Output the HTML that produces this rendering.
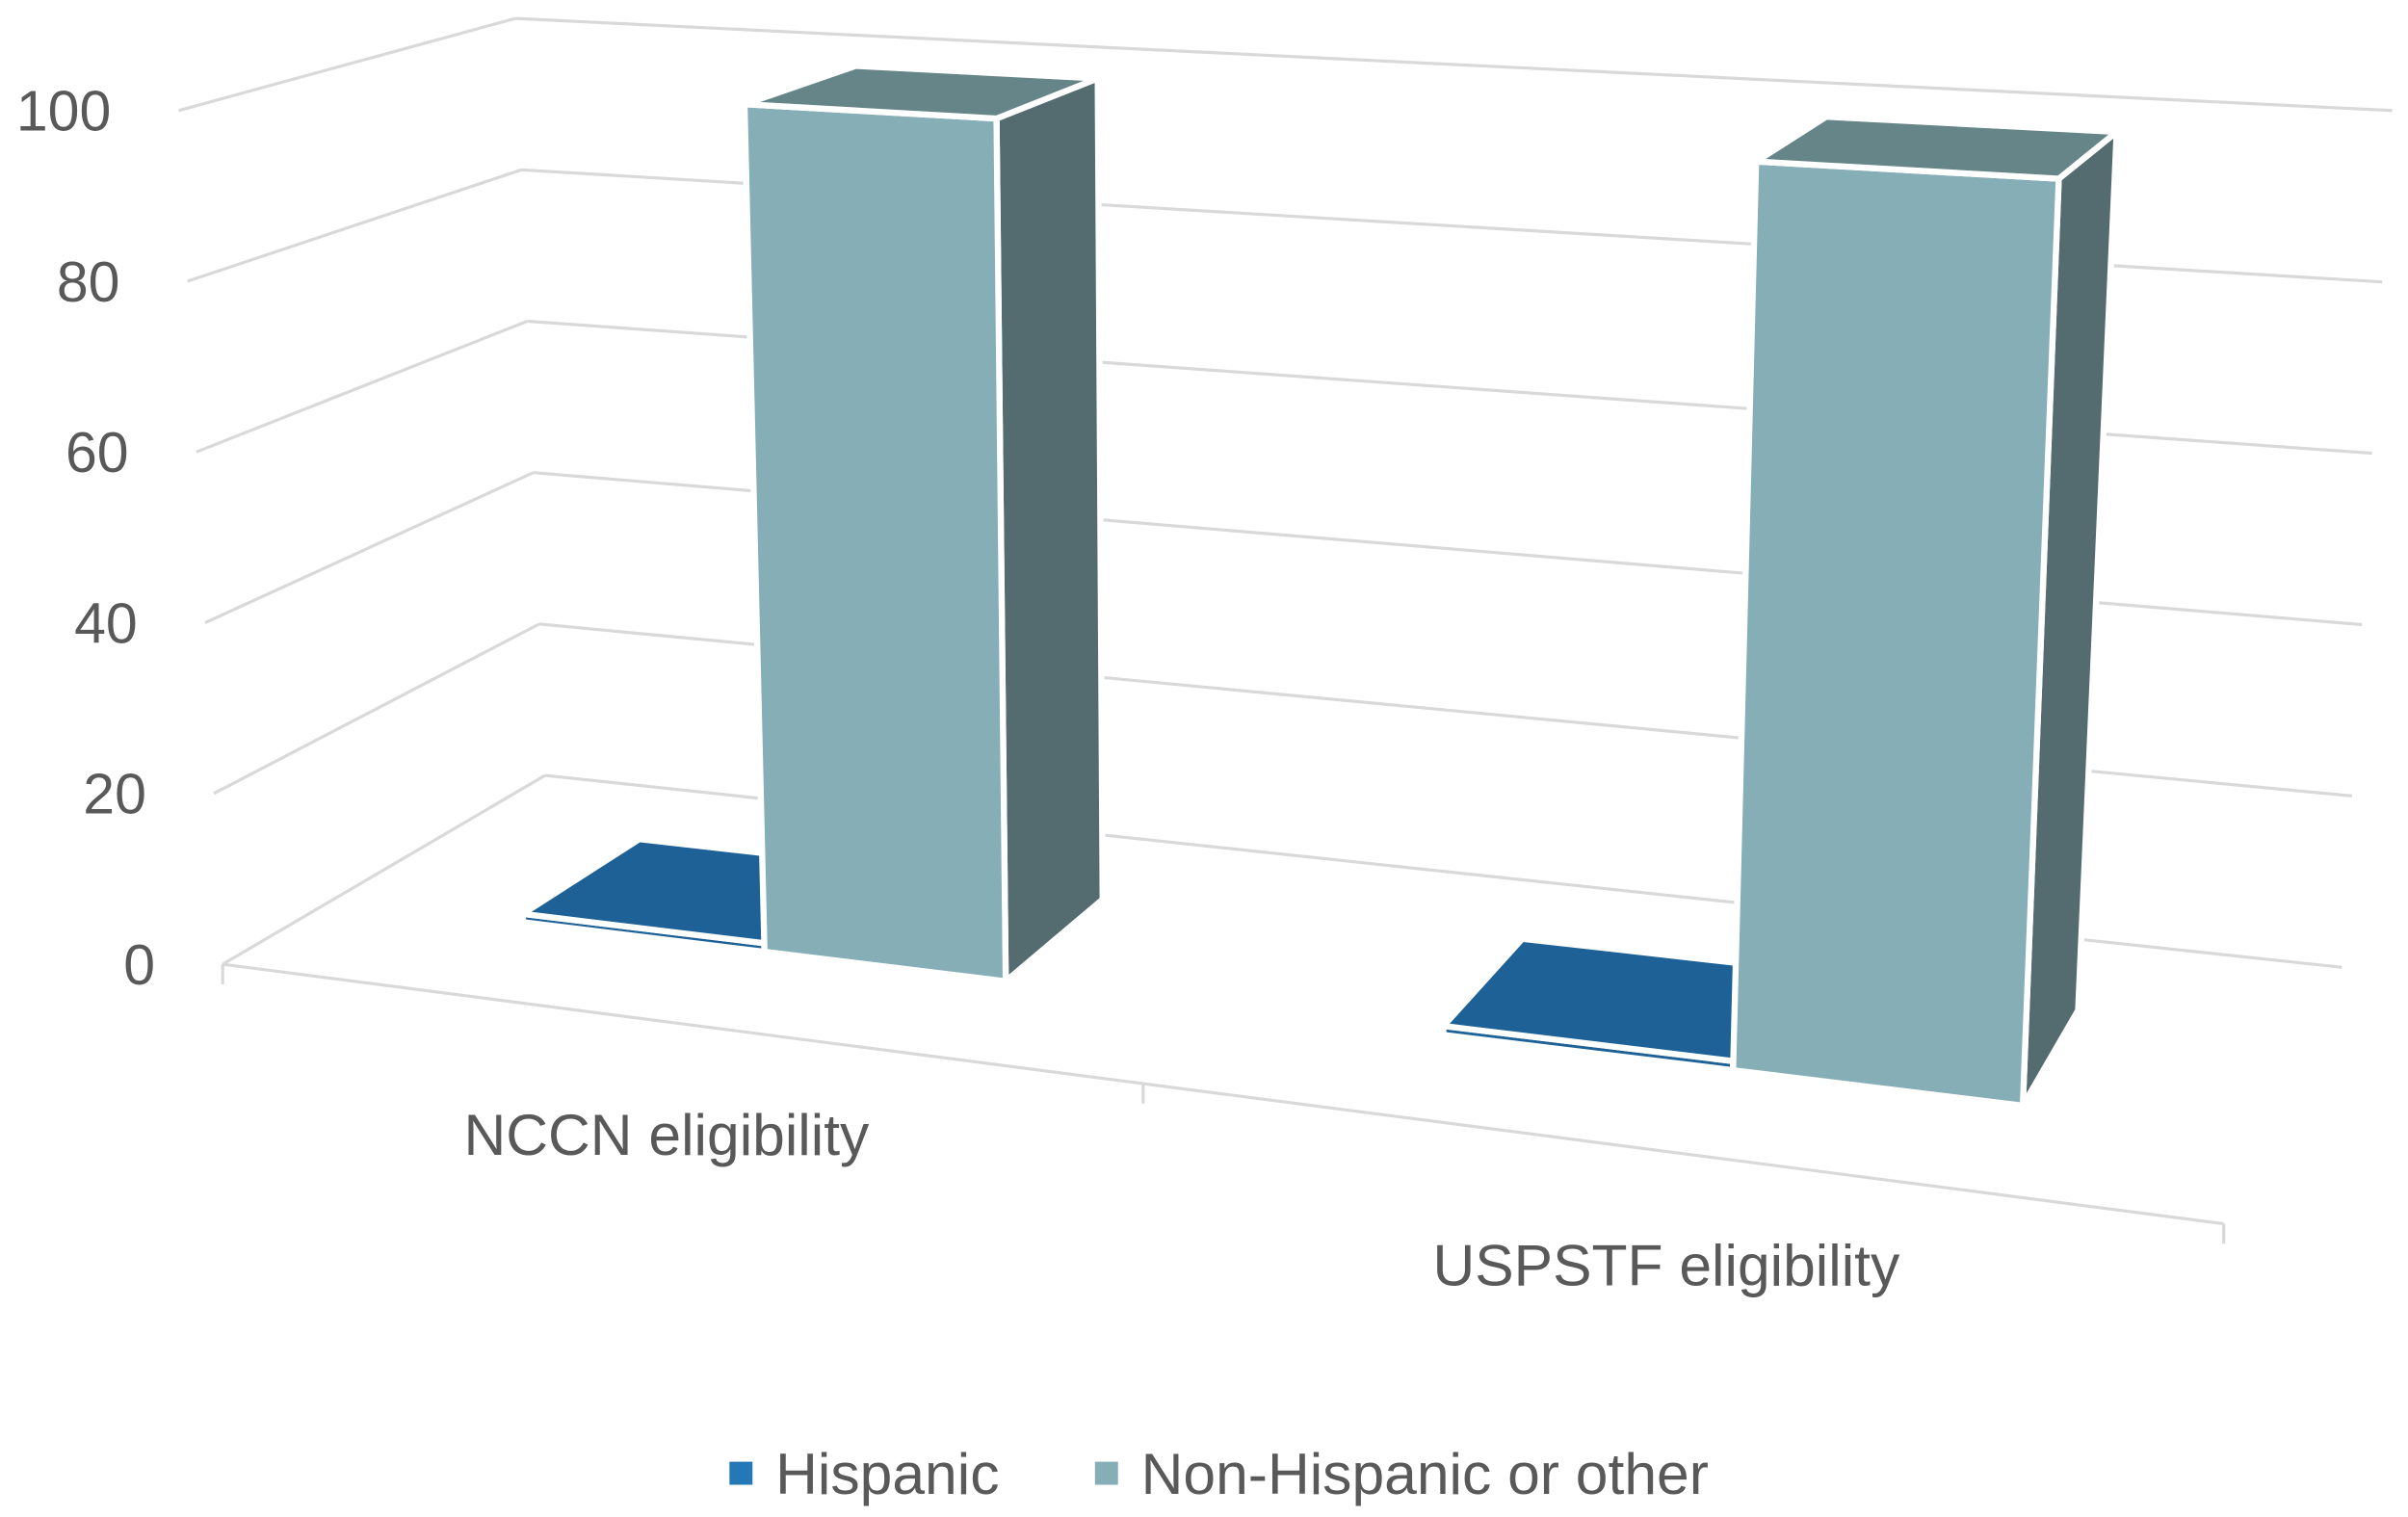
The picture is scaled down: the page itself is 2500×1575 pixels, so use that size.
<!DOCTYPE html>
<html>
<head>
<meta charset="utf-8">
<style>
  html, body { margin: 0; padding: 0; background: #ffffff; }
  svg { display: block; }
  text { font-family: "Liberation Sans", "DejaVu Sans", sans-serif; fill: #595959; }
</style>
</head>
<body>
<svg id="chart" width="2500" height="1575" viewBox="0 0 1568 988" preserveAspectRatio="none" xmlns="http://www.w3.org/2000/svg">
  <g id="walls"></g>
  <g id="axes"></g>
  <g id="bars"></g>
  <g id="labels"></g>
  <g id="legend">
    <rect x="475" y="952" width="15" height="15" fill="#2378b5"></rect>
    <text x="505" y="973" font-size="38">Hispanic</text>
    <rect x="713" y="952" width="15" height="15" fill="#85aeb7"></rect>
    <text x="743" y="973" font-size="38">Non-Hispanic or other</text>
  </g>
</svg>
<script>
const categories = ["NCCN eligibility", "USPSTF eligibility"];
const seriesNames = ["Hispanic", "Non-Hispanic or other"];
const hispanicValues = [1, 1];
const nonHispanicValues = [100, 100];
const yTicks = [0, 20, 40, 60, 80, 100];
const yTickLabels = ["0", "20", "40", "60", "80", "100"];

const NS = "http://www.w3.org/2000/svg";
const FL = [145, 628], FR = [1448, 797], BL = [355, 505], BR = [1525, 630];
const HFL = 556, HFR = 643, HBL = 493, HBR = 558;
const CX = 790, SKEW = 0.0445;
const VMAX = 100;

function proj(u, d, v) {
  const fx = (1 - d) * (FL[0] + (FR[0] - FL[0]) * u) + d * (BL[0] + (BR[0] - BL[0]) * u);
  const fy = (1 - d) * (FL[1] + (FR[1] - FL[1]) * u) + d * (BL[1] + (BR[1] - BL[1]) * u);
  const h = (1 - d) * (HFL + (HFR - HFL) * u) + d * (HBL + (HBR - HBL) * u);
  const t = v / VMAX;
  return [fx + (fx - CX) * SKEW * t, fy - t * h];
}
function el(tag, attrs, parent) {
  const e = document.createElementNS(NS, tag);
  for (const k in attrs) e.setAttribute(k, attrs[k]);
  parent.appendChild(e);
  return e;
}
function pts(arr) { return arr.map(p => p[0].toFixed(1) + "," + p[1].toFixed(1)).join(" "); }

const walls = document.getElementById("walls");
const axes = document.getElementById("axes");
const barsG = document.getElementById("bars");
const labels = document.getElementById("labels");

yTicks.forEach((v, i) => {
  const a = proj(0, 0, v), b = proj(0, 1, v), c = proj(1, 1, v);
  const l1 = el("line", {x1: a[0], y1: a[1], x2: b[0], y2: b[1], stroke: "#d9d9d9", "stroke-width": 2}, walls);
  
  
  const l2 = el("line", {x1: b[0], y1: b[1], x2: c[0], y2: c[1], stroke: "#d9d9d9", "stroke-width": 2}, walls);
  
  
  const t = el("text", {x: a[0] - 44, y: a[1] + 13, "font-size": 37, "text-anchor": "end"}, labels);
  t.textContent = yTickLabels[i];
  
  
});

const f0 = proj(0, 0, 0), f1 = proj(1, 0, 0);
const ax = el("line", {x1: f0[0], y1: f0[1], x2: f1[0], y2: f1[1], stroke: "#d9d9d9", "stroke-width": 2}, axes);


[0, 0.46, 1].forEach(u => {
  const p = proj(u, 0, 0);
  const tk = el("line", {x1: p[0], y1: p[1], x2: p[0], y2: p[1] + 13, stroke: "#d9d9d9", "stroke-width": 2}, axes);
  
  
});

const D0 = 0.345, D1 = 0.73;
function drawBar(u0, u1, v, cFront, cTop, cSide, name) {
  const g = el("g", {}, barsG);
  
  
  const common = {stroke: "#ffffff", "stroke-width": 4, "stroke-linejoin": "round"};
  const side = el("polygon", Object.assign({points: pts([proj(u1, D0, 0), proj(u1, D1, 0), proj(u1, D1, v), proj(u1, D0, v)]), fill: cSide}, common), g);
  
  
  const front = el("polygon", Object.assign({points: pts([proj(u0, D0, 0), proj(u1, D0, 0), proj(u1, D0, v), proj(u0, D0, v)]), fill: cFront}, common), g);
  
  
  const top = el("polygon", Object.assign({points: pts([proj(u0, D0, v), proj(u1, D0, v), proj(u1, D1, v), proj(u0, D1, v)]), fill: cTop}, common), g);
  
  
}
categories.forEach((cat, i) => {
  const c = 0.223 + i * 0.5017;
  const w = 0.125 + (c - 0.223) * 0.05;
  drawBar(c - w, c, hispanicValues[i], "#1d6196", "#1d6196", "#174e78", "bar-hispanic-" + i);
  drawBar(c, c + w, nonHispanicValues[i], "#85aeb7", "#668589", "#546b70", "bar-non-hispanic-" + i);
});

const catPos = [[434, 752], [1085, 837]];
categories.forEach((cat, i) => {
  const t = el("text", {x: catPos[i][0], y: catPos[i][1], "font-size": 38, "text-anchor": "middle"}, labels);
  t.textContent = cat;
  
  
});
</script>
</body>
</html>
